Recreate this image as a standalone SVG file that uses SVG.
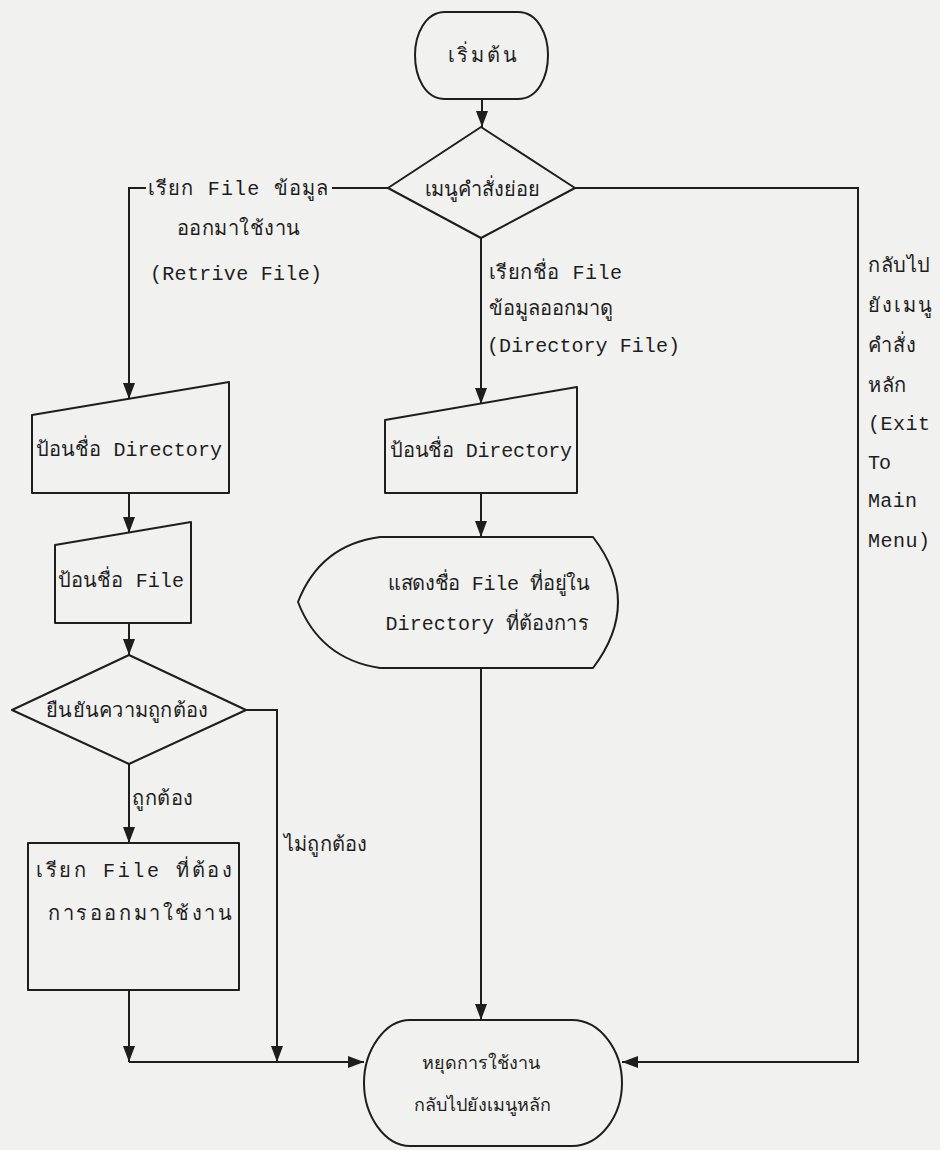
<svg xmlns="http://www.w3.org/2000/svg" width="940" height="1150" viewBox="0 0 940 1150">
  <defs>
    <marker id="arrow" markerUnits="userSpaceOnUse" markerWidth="16" markerHeight="12" refX="16" refY="6" orient="auto">
      <path d="M0,0 L16,6 L0,12 Z" fill="#1e1e1e"/>
    </marker>
    <style>
      .shape { fill: none; stroke: #1e1e1e; stroke-width: 2; stroke-linejoin: round; }
      .line { fill: none; stroke: #1e1e1e; stroke-width: 2; }
      .arrow { marker-end: url(#arrow); }
      text { font-family: "Liberation Mono", "DejaVu Sans Mono", "Noto Sans", monospace; font-size: 20px; fill: #1e1e1e; }
      .c { text-anchor: middle; }
      .sm { font-size: 18px; }
    </style>
  </defs>

  <rect x="0" y="0" width="940" height="1150" fill="#f1f1ef"/>

  <!-- connectors -->
  <g id="connectors">
    <path class="line arrow" d="M482,99 V127"/>
    <!-- left branch: retrieve file -->
    <path class="line" d="M388,188 H332"/>
    <path class="line arrow" d="M146,188 H129 V399"/>
    <path class="line arrow" d="M129,493 V533"/>
    <path class="line arrow" d="M129,623 V655"/>
    <path class="line arrow" d="M129,764 V843"/>
    <path class="line arrow" d="M246,710 H277 V1062"/>
    <path class="line arrow" d="M129,990 V1062"/>
    <path class="line arrow" d="M129,1062 H364"/>
    <!-- middle branch: directory file -->
    <path class="line arrow" d="M481,238 V404"/>
    <path class="line arrow" d="M481,493 V537"/>
    <path class="line arrow" d="M481,668 V1020"/>
    <!-- right branch: exit to main menu -->
    <path class="line arrow" d="M575,188 H858 V1062 H622"/>
  </g>

  <!-- connector labels -->
  <g id="labels">
    <text x="148" y="195" textLength="180" lengthAdjust="spacing">เรียก File ข้อมูล</text>
    <text x="177" y="235" textLength="123" lengthAdjust="spacing">ออกมาใช้งาน</text>
    <text x="150" y="280" textLength="172" lengthAdjust="spacing">(Retrive File)</text>

    <text x="489" y="279" textLength="133" lengthAdjust="spacing">เรียกชื่อ File</text>
    <text x="489" y="315" textLength="124" lengthAdjust="spacing">ข้อมูลออกมาดู</text>
    <text x="487" y="352" textLength="193" lengthAdjust="spacing">(Directory File)</text>

    <text x="868" y="272" textLength="62" lengthAdjust="spacing">กลับไป</text>
    <text x="868" y="312" textLength="64" lengthAdjust="spacing">ยังเมนู</text>
    <text x="868" y="352" textLength="48" lengthAdjust="spacing">คำสั่ง</text>
    <text x="868" y="392" textLength="38" lengthAdjust="spacing">หลัก</text>
    <text x="868" y="430" textLength="62" lengthAdjust="spacing">(Exit</text>
    <text x="868" y="469" textLength="23" lengthAdjust="spacing">To</text>
    <text x="868" y="507" textLength="49" lengthAdjust="spacing">Main</text>
    <text x="868" y="547" textLength="62" lengthAdjust="spacing">Menu)</text>

    <text x="132" y="805" textLength="61" lengthAdjust="spacing">ถูกต้อง</text>
    <text x="284" y="851" textLength="83" lengthAdjust="spacing">ไม่ถูกต้อง</text>
  </g>

  <g id="start">
    <path class="shape" d="M445,12 H518 C538,12 548,35 548,55 C548,77 538,99 518,99 H445 C425,99 415,77 415,55 C415,35 425,12 445,12 Z"/>
    <text class="c" x="482" y="62" textLength="69" lengthAdjust="spacing">เริ่มต้น</text>
  </g>

  <g id="menu">
    <polygon class="shape" points="481,127 575,188 481,238 388,188"/>
    <text class="c" x="482" y="196" textLength="115" lengthAdjust="spacing">เมนูคำสั่งย่อย</text>
  </g>

  <g id="input-dir-left">
    <polygon class="shape" points="32,415 229,382 229,493 32,493"/>
    <text class="c" x="129" y="456" textLength="186" lengthAdjust="spacing">ป้อนชื่อ Directory</text>
  </g>

  <g id="input-file">
    <polygon class="shape" points="55,545 191,522 191,623 55,623"/>
    <text class="c" x="121" y="587" textLength="126" lengthAdjust="spacing">ป้อนชื่อ File</text>
  </g>

  <g id="confirm">
    <polygon class="shape" points="129,655 246,710 129,764 12,710"/>
    <text class="c" x="127" y="717" textLength="162" lengthAdjust="spacing">ยืนยันความถูกต้อง</text>
  </g>

  <g id="retrieve">
    <rect class="shape" x="28" y="843" width="211" height="147"/>
    <text class="c" x="134" y="877" textLength="196" lengthAdjust="spacing">เรียก File ที่ต้อง</text>
    <text class="c" x="140" y="920" textLength="184" lengthAdjust="spacing">การออกมาใช้งาน</text>
  </g>

  <g id="input-dir-mid">
    <polygon class="shape" points="385,420 577,387 577,493 385,493"/>
    <text class="c" x="481" y="457" textLength="182" lengthAdjust="spacing">ป้อนชื่อ Directory</text>
  </g>

  <g id="display">
    <path class="shape" d="M380,537 H593 Q643,602 593,668 H380 Q320,659 298,602 Q320,545 380,537 Z"/>
    <text class="c" x="489" y="590" textLength="202" lengthAdjust="spacing">แสดงชื่อ File ที่อยู่ใน</text>
    <text class="c" x="487" y="630" textLength="203" lengthAdjust="spacing">Directory ที่ต้องการ</text>
  </g>

  <g id="end">
    <path class="shape" d="M410,1020 H572 C600,1020 622,1050 622,1083 C622,1116 600,1146 572,1146 H410 C385,1146 364,1116 364,1083 C364,1050 385,1020 410,1020 Z"/>
    <text class="c sm" x="481" y="1069">หยุดการใช้งาน</text>
    <text class="c sm" x="482" y="1111">กลับไปยังเมนูหลัก</text>
  </g>
</svg>
